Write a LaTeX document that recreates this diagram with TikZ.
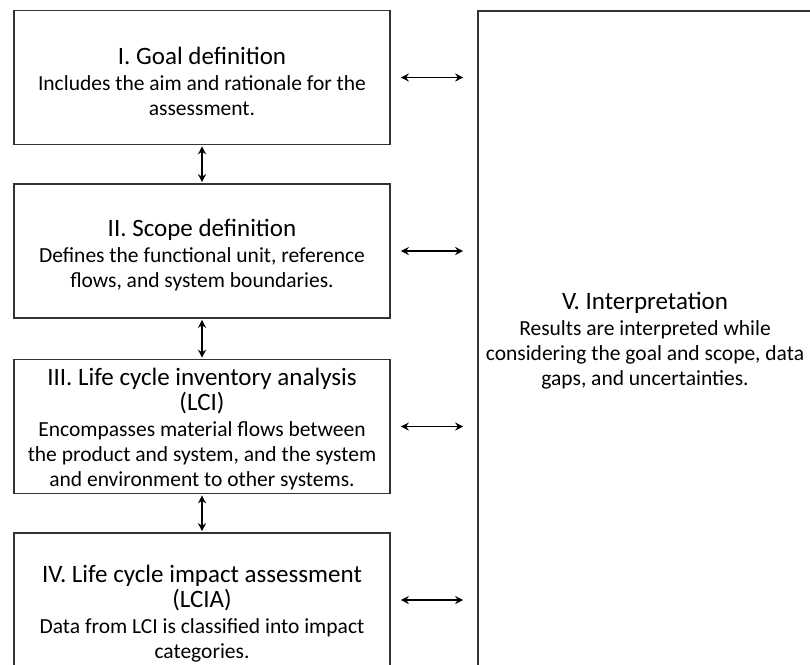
\documentclass[tikz,border=0pt]{standalone}
\usepackage{fontspec}
\setmainfont{Carlito}
\usetikzlibrary{arrows.meta}

\tikzset{
  boxtext/.style={align=center, inner sep=0pt, font=\fontsize{21.5}{25}\selectfont},
  stagebox/.style={draw=black!80, line width=1.6pt, rectangle, inner sep=0pt,
    minimum width=376pt, minimum height=134pt},
  bigbox/.style={draw=black!80, line width=1.6pt, rectangle, inner sep=0pt,
    minimum width=334pt, minimum height=660pt, boxtext},
  link/.style={{Stealth[length=8pt,width=8pt]}-{Stealth[length=8pt,width=8pt]}, line width=1.5pt, black},
}
\newcommand{\stagetitle}[1]{{\fontsize{25}{25}\selectfont #1}}

\begin{document}
\begin{tikzpicture}[x=1pt,y=-1pt]
  \useasboundingbox (0,0) rectangle (810,664);

  \node[stagebox, label={[boxtext, yshift=-3.5pt]center:{%
      \stagetitle{I. Goal definition}\\[1pt]
      Includes the aim and rationale for the\\
      assessment.}}] (goal) at (202,77.5) {};
  \node[stagebox, label={[boxtext, yshift=-4pt]center:{%
      \stagetitle{II. Scope definition}\\[1pt]
      Defines the functional unit, reference\\
      flows, and system boundaries.}}] (scope) at (202,251) {};
  \node[stagebox, label={[boxtext, yshift=-3pt]center:{%
      \stagetitle{III. Life cycle inventory analysis}\\
      \stagetitle{(LCI)}\\[1pt]
      Encompasses material flows between\\
      the product and system, and the system\\
      and environment to other systems.}}] (lci) at (202,426.5) {};
  \node[stagebox, minimum height=160pt, label={[boxtext, yshift=-1pt]center:{%
      \stagetitle{IV. Life cycle impact assessment}\\
      \stagetitle{(LCIA)}\\[1pt]
      Data from LCI is classified into impact\\
      categories.}}] (lcia) at (202,613) {};

  \node[bigbox] (interp) at (645,341)
    {\stagetitle{V. Interpretation}\\[1pt]
     Results are interpreted while\\
     considering the goal and scope, data\\
     gaps, and uncertainties.};

  % links between consecutive stages
  \draw[link, shorten <=1pt, shorten >=1pt] (goal.south) -- (scope.north);
  \draw[link, shorten <=1pt, shorten >=1pt] (scope.south) -- (lci.north);
  \draw[link, shorten <=1pt, shorten >=1pt] (lci.south) -- (lcia.north);

  % links from each stage to the interpretation
  \foreach \s/\dy in {goal/0,scope/0,lci/0,lcia/13}
    \draw[link, shorten <=10pt, shorten >=14pt]
      ([yshift=\dy pt]\s.east) -- ([yshift=\dy pt]\s.east -| interp.west);
\end{tikzpicture}
\end{document}
